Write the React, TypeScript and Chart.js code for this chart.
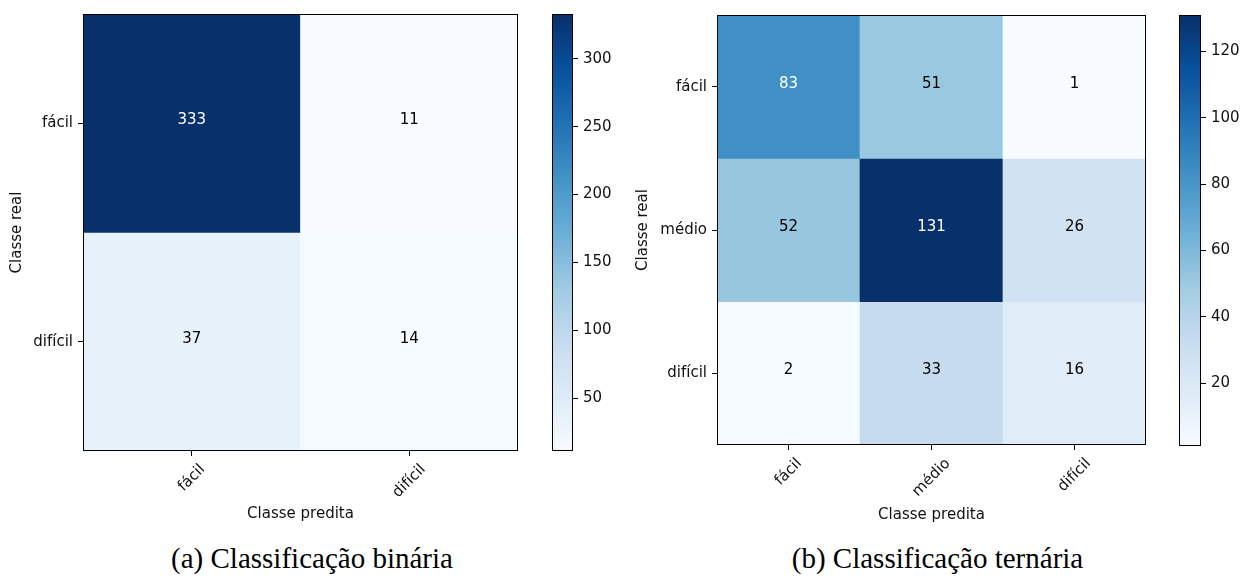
import React, { useEffect, useRef } from "react";
import { Chart, registerables } from "chart.js";

Chart.register(...registerables);

// ---- data ----
const binaryLabels = ["fácil", "difícil"];
const binaryMatrix = [
  [333, 11],
  [37, 14],
];
const binaryColorbarTicks = [50, 100, 150, 200, 250, 300];

const ternaryLabels = ["fácil", "médio", "difícil"];
const ternaryMatrix = [
  [83, 51, 1],
  [52, 131, 26],
  [2, 33, 16],
];
const ternaryColorbarTicks = [20, 40, 60, 80, 100, 120];

const xAxisTitle = "Classe predita";
const yAxisTitle = "Classe real";
const captionA = "(a) Classificação binária";
const captionB = "(b) Classificação ternária";

// matplotlib "Blues" colormap stops
const BLUES = [
  [247, 251, 255],
  [222, 235, 247],
  [198, 219, 239],
  [158, 202, 225],
  [107, 174, 214],
  [66, 146, 198],
  [33, 113, 181],
  [8, 81, 156],
  [8, 48, 107],
];

const FONT_FAMILY = "'DejaVu Sans', sans-serif";
const FONT_SIZE = 15;
const TEXT_COLOR = "#111";

function blues(t: number): string {
  const c = Math.max(0, Math.min(1, t));
  const s = c * (BLUES.length - 1);
  const i = Math.min(BLUES.length - 2, Math.floor(s));
  const f = s - i;
  const a = BLUES[i];
  const b = BLUES[i + 1];
  const rgb = a.map((v, k) => Math.round(v + (b[k] - v) * f));
  return `rgb(${rgb[0]},${rgb[1]},${rgb[2]})`;
}

const framePlugin = {
  id: "frame",
  afterDraw(chart: any) {
    const { ctx, chartArea } = chart;
    if (!chartArea) return;
    ctx.save();
    ctx.strokeStyle = "#000";
    ctx.lineWidth = 1;
    ctx.strokeRect(
      Math.round(chartArea.left) + 0.5,
      Math.round(chartArea.top) + 0.5,
      Math.round(chartArea.right - chartArea.left) - 1,
      Math.round(chartArea.bottom - chartArea.top) - 1
    );
    ctx.restore();
  },
};

const cellTextPlugin = {
  id: "cellText",
  afterDatasetsDraw(chart: any) {
    const opts = chart.options.plugins.cellText;
    if (!opts || !opts.enabled) return;
    const ctx = chart.ctx;
    ctx.save();
    ctx.font = `${FONT_SIZE}px ${FONT_FAMILY}`;
    ctx.textAlign = "center";
    ctx.textBaseline = "alphabetic";
    chart.data.datasets.forEach((ds: any, di: number) => {
      const meta = chart.getDatasetMeta(di);
      meta.data.forEach((bar: any, i: number) => {
        const v = ds.values[i];
        const p = bar.getCenterPoint();
        ctx.fillStyle = v > opts.thresh ? "#fff" : "#000";
        ctx.fillText(String(v), p.x, p.y + 1);
      });
    });
    ctx.restore();
  },
};

const rotatedXLabelsPlugin = {
  id: "rotatedXLabels",
  afterDraw(chart: any) {
    const opts = chart.options.plugins.rotatedXLabels;
    if (!opts || !opts.enabled) return;
    const scale = chart.scales.x;
    const labels: string[] = opts.labels;
    const ctx = chart.ctx;
    ctx.save();
    ctx.font = `${FONT_SIZE}px ${FONT_FAMILY}`;
    ctx.fillStyle = TEXT_COLOR;
    ctx.textAlign = "center";
    ctx.textBaseline = "middle";
    labels.forEach((lab, i) => {
      const x = scale.getPixelForTick(i);
      const w = ctx.measureText(lab).width;
      const bbox = (w + FONT_SIZE * 1.16) * Math.SQRT1_2;
      const cy = scale.top + 10 + bbox / 2;
      ctx.save();
      ctx.translate(x, cy);
      ctx.rotate(-Math.PI / 4);
      ctx.fillText(lab, 0, 0);
      ctx.restore();
    });
    ctx.restore();
  },
};

type HeatLayout = {
  padTop: number;
  padRight: number;
  yWidth: number;
  xHeight: number;
  yTitlePad: number;
  xTitlePad: number;
};

function heatmapConfig(labels: string[], matrix: number[][], lay: HeatLayout): any {
  const flat = matrix.flat();
  const vmin = Math.min(...flat);
  const vmax = Math.max(...flat);
  const font = { family: FONT_FAMILY, size: FONT_SIZE };
  const datasets = matrix.map((row, r) => ({
    label: labels[r],
    data: row.map(() => [r - 0.5, r + 0.5]),
    values: row,
    backgroundColor: row.map((v) => blues((v - vmin) / (vmax - vmin))),
    borderWidth: 0,
    grouped: false,
    barPercentage: 1,
    categoryPercentage: 1,
  }));
  const tickGrid = {
    display: true,
    drawOnChartArea: false,
    drawTicks: true,
    tickLength: 5,
    color: "#000",
    tickColor: "#000",
    lineWidth: 1,
  };
  return {
    type: "bar",
    data: { labels, datasets },
    options: {
      animation: false,
      responsive: false,
      events: [],
      layout: { padding: { top: lay.padTop, right: lay.padRight, left: 0, bottom: 0 } },
      plugins: {
        legend: { display: false },
        tooltip: { enabled: false },
        cellText: { enabled: true, thresh: vmax / 2 },
        rotatedXLabels: { enabled: true, labels },
      },
      scales: {
        x: {
          type: "category",
          offset: true,
          grid: { ...tickGrid, offset: false },
          border: { display: false },
          ticks: { display: false },
          title: {
            display: true,
            text: xAxisTitle,
            font,
            color: TEXT_COLOR,
            padding: { top: 0, bottom: lay.xTitlePad },
          },
          afterFit: (s: any) => {
            s.height = lay.xHeight;
          },
        },
        y: {
          type: "linear",
          min: -0.5,
          max: labels.length - 0.5,
          reverse: true,
          afterBuildTicks: (s: any) => {
            s.ticks = labels.map((_, i) => ({ value: i }));
          },
          ticks: {
            font,
            color: TEXT_COLOR,
            padding: 5,
            callback: (v: any) => labels[Math.round(Number(v))] ?? "",
          },
          grid: tickGrid,
          border: { display: false },
          title: {
            display: true,
            text: yAxisTitle,
            font,
            color: TEXT_COLOR,
            padding: { top: lay.yTitlePad, bottom: 0 },
          },
          afterFit: (s: any) => {
            s.width = lay.yWidth;
          },
        },
      },
    },
    plugins: [cellTextPlugin, rotatedXLabelsPlugin, framePlugin],
  };
}

type BarLayout = { padLeft: number; padTop: number; padBottom: number; yWidth: number };

function colorbarConfig(matrix: number[][], ticks: number[], lay: BarLayout): any {
  const flat = matrix.flat();
  const vmin = Math.min(...flat);
  const vmax = Math.max(...flat);
  const font = { family: FONT_FAMILY, size: FONT_SIZE };
  return {
    type: "bar",
    data: {
      labels: [""],
      datasets: [
        {
          data: [[vmin, vmax]],
          backgroundColor: (c: any) => {
            const area = c.chart.chartArea;
            if (!area) return blues(0.5);
            const g = c.chart.ctx.createLinearGradient(0, area.bottom, 0, area.top);
            BLUES.forEach((col, i) => g.addColorStop(i / (BLUES.length - 1), `rgb(${col[0]},${col[1]},${col[2]})`));
            return g;
          },
          borderWidth: 0,
          barPercentage: 1,
          categoryPercentage: 1,
        },
      ],
    },
    options: {
      animation: false,
      responsive: false,
      events: [],
      layout: { padding: { left: lay.padLeft, top: lay.padTop, bottom: lay.padBottom, right: 0 } },
      plugins: { legend: { display: false }, tooltip: { enabled: false } },
      scales: {
        x: { type: "category", display: false, offset: true },
        y: {
          type: "linear",
          position: "right",
          min: vmin,
          max: vmax,
          afterBuildTicks: (s: any) => {
            s.ticks = ticks.map((v) => ({ value: v }));
          },
          ticks: { font, color: TEXT_COLOR, padding: 5 },
          grid: {
            display: true,
            drawOnChartArea: false,
            drawTicks: true,
            tickLength: 5,
            color: "#000",
            tickColor: "#000",
            lineWidth: 1,
          },
          border: { display: false },
          afterFit: (s: any) => {
            s.width = lay.yWidth;
          },
        },
      },
    },
    plugins: [framePlugin],
  };
}

function ChartCanvas(props: { config: () => any; left: number; top: number; width: number; height: number }) {
  const ref = useRef<HTMLCanvasElement | null>(null);
  useEffect(() => {
    if (!ref.current) return;
    const chart = new Chart(ref.current, props.config());
    return () => chart.destroy();
  }, []);
  return (
    <canvas
      ref={ref}
      width={props.width}
      height={props.height}
      style={{
        position: "absolute",
        left: props.left,
        top: props.top,
        width: props.width,
        height: props.height,
      }}
    />
  );
}

function Caption(props: { text: string; center: number }) {
  return (
    <div
      style={{
        position: "absolute",
        left: props.center - 250,
        width: 500,
        top: 544,
        textAlign: "center",
        fontFamily: "'Liberation Serif', 'Times New Roman', serif",
        fontSize: 29,
        lineHeight: "29px",
        color: "#000",
        whiteSpace: "nowrap",
      }}
    >
      {props.text}
    </div>
  );
}

export default function App() {
  return (
    <div
      style={{
        position: "absolute",
        left: 0,
        top: 0,
        width: 1241,
        height: 577,
        background: "#fff",
        overflow: "hidden",
      }}
    >
      <ChartCanvas
        left={0}
        top={0}
        width={540}
        height={530}
        config={() =>
          heatmapConfig(binaryLabels, binaryMatrix, {
            padTop: 14,
            padRight: 22,
            yWidth: 83,
            xHeight: 79,
            yTitlePad: 8.5,
            xTitlePad: 7,
          })
        }
      />
      <ChartCanvas
        left={540}
        top={0}
        width={80}
        height={470}
        config={() =>
          colorbarConfig(binaryMatrix, binaryColorbarTicks, {
            padLeft: 12,
            padTop: 14,
            padBottom: 19,
            yWidth: 47,
          })
        }
      />
      <ChartCanvas
        left={626}
        top={0}
        width={540}
        height={530}
        config={() =>
          heatmapConfig(ternaryLabels, ternaryMatrix, {
            padTop: 15,
            padRight: 20,
            yWidth: 91,
            xHeight: 85,
            yTitlePad: 8.5,
            xTitlePad: 6,
          })
        }
      />
      <ChartCanvas
        left={1166}
        top={0}
        width={75}
        height={470}
        config={() =>
          colorbarConfig(ternaryMatrix, ternaryColorbarTicks, {
            padLeft: 13,
            padTop: 15,
            padBottom: 24,
            yWidth: 40,
          })
        }
      />
      <Caption text={captionA} center={312} />
      <Caption text={captionB} center={937.5} />
    </div>
  );
}
